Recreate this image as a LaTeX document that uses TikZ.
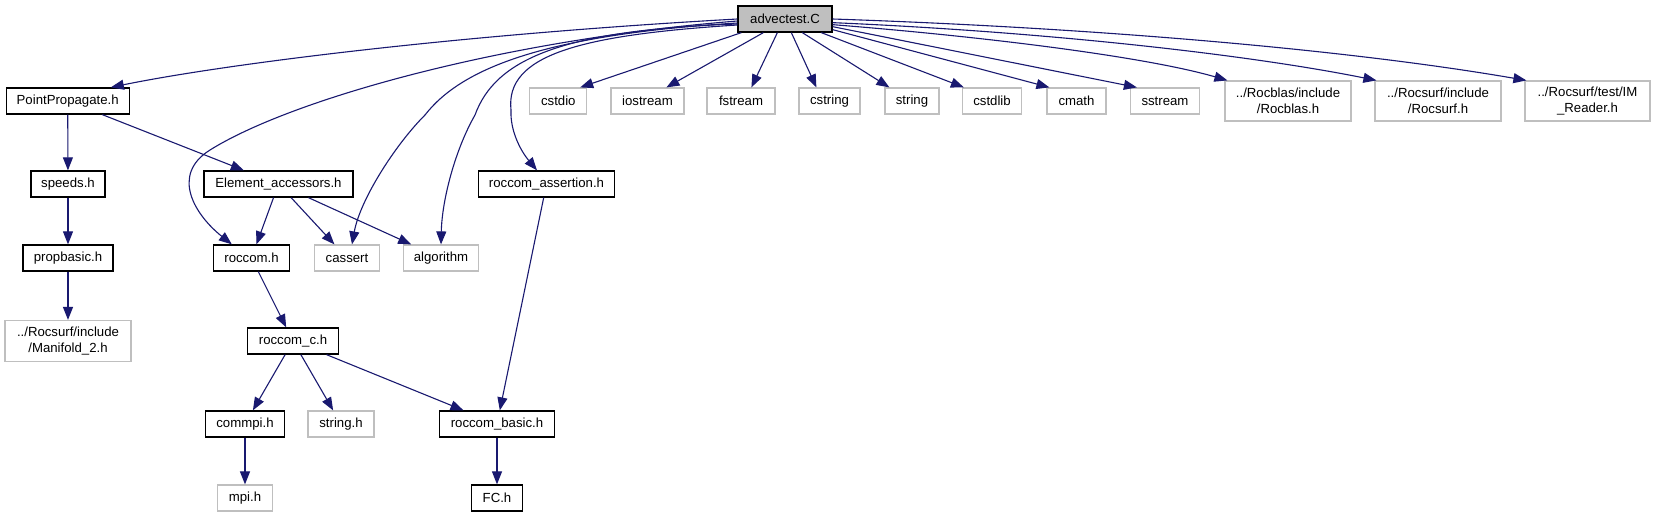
\documentclass[tikz,border=0pt]{standalone}
\usepackage{fontspec}
\setmainfont{Liberation Sans}
\usetikzlibrary{arrows.meta}
\definecolor{edgec}{HTML}{191970}
\definecolor{greyc}{HTML}{BFBFBF}
\begin{document}
\begin{tikzpicture}[x=1pt,y=-1pt,
  base/.style={rectangle, inner sep=0pt, minimum height=26pt, font=\fontsize{13.2}{15.5}\selectfont, align=center},
  doc/.style={base, draw=black, line width=1.3pt},
  ext/.style={base, draw=greyc, line width=1.2pt},
  root/.style={doc, fill=greyc},
  tall/.style={minimum height=40pt},
  edge/.style={draw=edgec, line width=1.1pt, -{Triangle[length=13pt,width=10pt]}},
]
\useasboundingbox[fill=white] (0,0) rectangle (1656,517);

\node[root, minimum width=94pt] (adv) at (785,19) {advectest.C};
\node[doc, minimum width=123pt] (pp) at (67.7,101) {PointPropagate.h};
\node[ext, minimum width=57pt] (cstdio) at (558.3,101) {cstdio};
\node[ext, minimum width=73pt] (iostream) at (647.5,101) {iostream};
\node[ext, minimum width=68pt] (fstream) at (741,101) {fstream};
\node[ext, minimum width=61pt] (cstring) at (829.5,101) {cstring};
\node[ext, minimum width=54pt] (string) at (912,101) {string};
\node[ext, minimum width=59pt] (cstdlib) at (992,101) {cstdlib};
\node[ext, minimum width=59pt] (cmath) at (1076.5,101) {cmath};
\node[ext, minimum width=69pt] (sstream) at (1165,101) {sstream};
\node[ext, tall, minimum width=126pt] (rocblas) at (1288,101) {../Rocblas/include\\/Rocblas.h};
\node[ext, tall, minimum width=126pt] (rocsurf) at (1438,101) {../Rocsurf/include\\/Rocsurf.h};
\node[ext, tall, minimum width=125pt] (imr) at (1587.5,101) {../Rocsurf/test/IM\\\_Reader.h};
\node[doc, minimum width=74pt] (speeds) at (68,184) {speeds.h};
\node[doc, minimum width=149pt] (ea) at (278.5,184) {Element\_accessors.h};
\node[doc, minimum width=136pt] (ra) at (546.5,184) {roccom\_assertion.h};
\node[doc, minimum width=90pt] (pb) at (68,258) {propbasic.h};
\node[doc, minimum width=76pt] (rc) at (251.5,258) {roccom.h};
\node[ext, minimum width=65pt] (cassert) at (347,258) {cassert};
\node[ext, minimum width=75pt] (algo) at (441,258) {algorithm};
\node[ext, tall, minimum width=126pt, minimum height=41pt] (mani) at (68,341) {../Rocsurf/include\\/Manifold\_2.h};
\node[doc, minimum width=91pt] (rcc) at (293,341) {roccom\_c.h};
\node[doc, minimum width=79pt] (commpi) at (245,424) {commpi.h};
\node[ext, minimum width=66pt] (stringh) at (341,424) {string.h};
\node[doc, minimum width=115pt] (rb) at (497,424) {roccom\_basic.h};
\node[ext, minimum width=55pt] (mpi) at (245,498) {mpi.h};
\node[doc, minimum width=51pt] (fc) at (497,498) {FC.h};

% top row from advectest
\draw[edge] ([xshift=4pt]adv.south west) -- ([xshift=51pt]cstdio.north west);
\draw[edge] ([xshift=26pt]adv.south west) -- ([xshift=56pt]iostream.north west);
\draw[edge] ([xshift=40pt]adv.south west) -- ([xshift=45pt]fstream.north west);
\draw[edge] ([xshift=54pt]adv.south west) -- ([xshift=18pt]cstring.north west);
\draw[edge] ([xshift=65pt]adv.south west) -- ([xshift=5pt]string.north west);
\draw[edge] ([xshift=84pt]adv.south west) -- ([xshift=2pt]cstdlib.north west);
\draw[edge] ([yshift=3pt]adv.south east) -- ([xshift=3pt]cmath.north west);
\draw[edge] ([yshift=6pt]adv.south east) -- ([xshift=7pt]sstream.north west);
\draw[edge] ([yshift=8pt]adv.south east) .. controls (1000,38) and (1150,58) .. ([xshift=3pt]rocblas.north west);
\draw[edge] ([yshift=10pt]adv.south east) .. controls (1050,32) and (1250,55) .. ([xshift=2pt]rocsurf.north west);
\draw[edge] (adv.east) .. controls (1100,28) and (1350,50) .. ([xshift=2pt]imr.north west);

% left curves from advectest
\draw[edge] (adv.west) .. controls (450,35) and (220,65) .. ([xshift=-19pt]pp.north east);
\draw[edge] ([yshift=-2pt]adv.west) .. controls (500,40) and (290,100) .. (210,150)
  .. controls (170,175) and (195,215) .. ([xshift=19pt]rc.north west);
\draw[edge] ([yshift=-4pt]adv.west) .. controls (540,35) and (460,70) .. (425,115)
  .. controls (395,145) and (360,200) .. ([xshift=5pt]cassert.north);
\draw[edge] ([yshift=-5pt]adv.west) .. controls (560,30) and (495,60) .. (475,115)
  .. controls (455,150) and (442,200) .. (algo.north);
\draw[edge] ([yshift=-6pt]adv.west) .. controls (580,35) and (505,55) .. (511,110)
  .. controls (510,130) and (520,150) .. ([xshift=-9.5pt]ra.north);

% lower graph
\draw[edge] (pp) -- (speeds);
\draw[edge] (pp) -- (ea);
\draw[edge] (speeds) -- (pb);
\draw[edge] (pb) -- (mani);
\draw[edge] (ea) -- (rc);
\draw[edge] (ea) -- (cassert);
\draw[edge] (ea) -- (algo);
\draw[edge] (rc) -- (rcc);
\draw[edge] (rcc) -- (commpi);
\draw[edge] (rcc) -- (stringh);
\draw[edge] (rcc) -- (rb);
\draw[edge] (ra) -- (rb);
\draw[edge] (commpi) -- (mpi);
\draw[edge] (rb) -- (fc);
\end{tikzpicture}
\end{document}
